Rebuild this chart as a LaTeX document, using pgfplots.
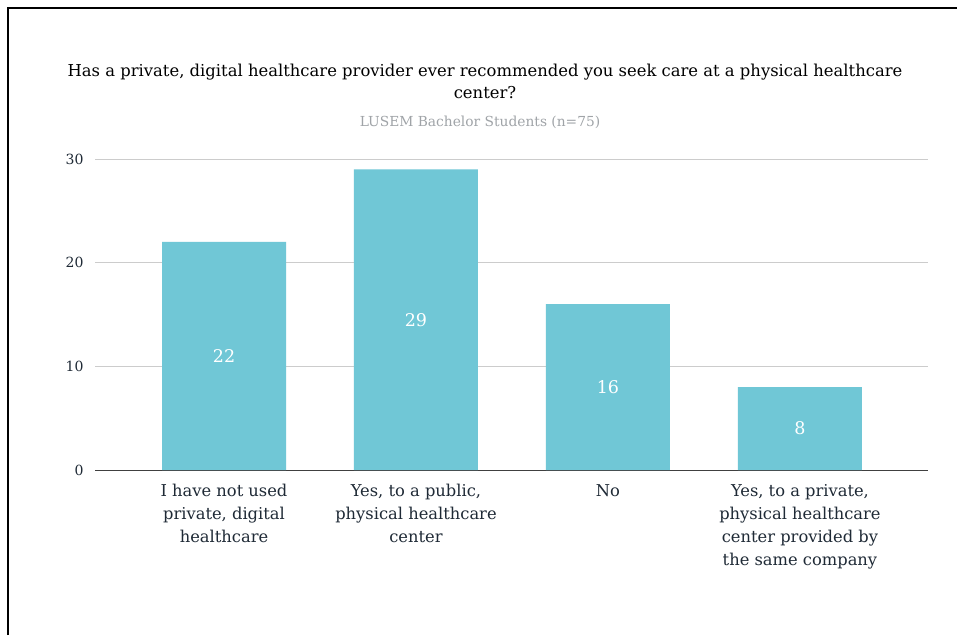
\documentclass[border=0pt]{standalone}
\usepackage{fontspec}
\setmainfont{DejaVu Serif}
\usepackage{pgfplots}
\pgfplotsset{compat=1.18}
\definecolor{barc}{HTML}{70C7D6}
\definecolor{txt}{HTML}{1F2A36}
\definecolor{gridc}{HTML}{CCCCCC}
\definecolor{subc}{HTML}{A0A4A8}
\begin{document}
\begin{tikzpicture}
\path[use as bounding box] (0,0) rectangle (957pt,635pt);
\fill[white] (0,0) rectangle (957pt,635pt);
\draw[line width=2.5pt,black] (8pt,0) -- (8pt,627pt) -- (957pt,627pt);
\node[font=\fontsize{16.4}{22}\selectfont, align=center, text=black] at (485pt,554pt) {Has a private, digital healthcare provider ever recommended you seek care at a physical healthcare\\center?};
\node[font=\fontsize{13.8}{16}\selectfont, text=subc] at (480pt,513pt) {LUSEM Bachelor Students (n=75)};
\begin{axis}[
  at={(95pt,165pt)}, anchor=south west,
  scale only axis, width=833pt, height=311pt,
  xmin=-0.672, xmax=3.667, ymin=0, ymax=30,
  axis x line*=bottom, axis y line*=left,
  y axis line style={draw=none},
  x axis line style={draw=black!75, line width=1pt, -},
  ytick={0,10,20,30},
  ymajorgrids, grid style={gridc, line width=0.8pt},
  major tick length=0pt,
  xtick={0,1,2,3},
  xticklabels={{I have not used\\private, digital\\healthcare}, {Yes, to a public,\\physical healthcare\\center}, No, {Yes, to a private,\\physical healthcare\\center provided by\\the same company}},
  xticklabel style={align=center, font=\fontsize{16.3}{23}\selectfont, text=txt, anchor=north, yshift=-11pt},
  yticklabel style={font=\fontsize{14}{16}\selectfont, text=txt, xshift=-8pt},
  /pgf/number format/assume math mode=true,
  ybar, bar width=124pt,
  nodes near coords,
  visualization depends on=y \as \rawy,
  every node near coord/.append style={anchor=center, text=white, font=\fontsize{17.5}{20}\selectfont, shift={(axis direction cs:0,-\rawy/2)}},
  clip=false,
]
\addplot[fill=barc, draw=none] coordinates {(0,22) (1,29) (2,16) (3,8)};
\end{axis}
\end{tikzpicture}
\end{document}
